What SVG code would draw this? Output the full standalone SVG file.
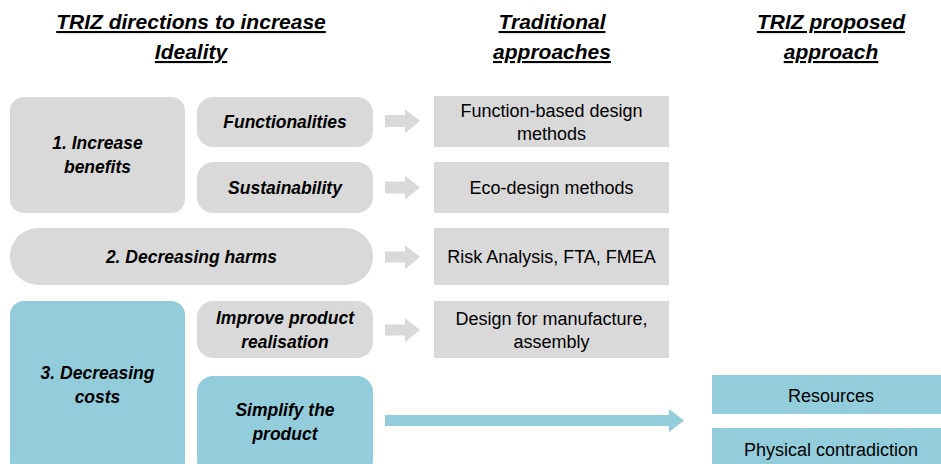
<svg xmlns="http://www.w3.org/2000/svg" width="941" height="464" viewBox="0 0 941 464">
<style>
.hd{font-family:"Liberation Sans",Arial,sans-serif;font-weight:bold;font-style:italic;font-size:21px;text-decoration:underline;fill:#000;text-anchor:middle}
.nl{font-family:"Liberation Sans",Arial,sans-serif;font-weight:bold;font-style:italic;font-size:17.5px;fill:#000;text-anchor:middle}
.tx{font-family:"Liberation Sans",Arial,sans-serif;font-size:18px;fill:#000;text-anchor:middle}
.g{fill:#d9d9d9}
.b{fill:#93cddc}
</style>
<rect width="941" height="464" fill="#fff"/>
<g id="headers">
<text class="hd" x="191" y="29">TRIZ directions to increase</text>
<text class="hd" x="191" y="59">Ideality</text>
<text class="hd" x="552" y="29">Traditional</text>
<text class="hd" x="552" y="59">approaches</text>
<text class="hd" x="831" y="29">TRIZ proposed</text>
<text class="hd" x="831" y="59">approach</text>
</g>
<g id="n1"><rect class="g" x="10" y="97" width="175" height="116" rx="14"/><text class="nl" x="97.5" y="149">1. Increase</text><text class="nl" x="97.5" y="173">benefits</text></g>
<g id="n_func"><rect class="g" x="197" y="97" width="176" height="50" rx="16"/><text class="nl" x="285" y="128">Functionalities</text></g>
<g id="n_sust"><rect class="g" x="197" y="162" width="176" height="51" rx="16"/><text class="nl" x="285" y="194">Sustainability</text></g>
<g id="n2"><rect class="g" x="10" y="228" width="363" height="57" rx="28"/><text class="nl" x="191.5" y="263">2. Decreasing harms</text></g>
<g id="n3"><rect class="b" x="10" y="301" width="175" height="175" rx="14"/><text class="nl" x="97.5" y="379">3. Decreasing</text><text class="nl" x="97.5" y="403">costs</text></g>
<g id="n_improve"><rect class="g" x="197" y="301" width="176" height="57" rx="16"/><text class="nl" x="285" y="324">Improve product</text><text class="nl" x="285" y="348">realisation</text></g>
<g id="n_simplify"><rect class="b" x="197" y="376" width="176" height="100" rx="16"/><text class="nl" x="285" y="416">Simplify the</text><text class="nl" x="285" y="440">product</text></g>
<g id="t_func"><rect class="g" x="434" y="96" width="235" height="51"/><text class="tx" x="551.5" y="117">Function-based design</text><text class="tx" x="551.5" y="140">methods</text></g>
<g id="t_eco"><rect class="g" x="434" y="162" width="235" height="51"/><text class="tx" x="551.5" y="194">Eco-design methods</text></g>
<g id="t_risk"><rect class="g" x="434" y="228" width="235" height="57"/><text class="tx" x="551.5" y="263">Risk Analysis, FTA, FMEA</text></g>
<g id="t_dfm"><rect class="g" x="434" y="301" width="235" height="57"/><text class="tx" x="551.5" y="325">Design for manufacture,</text><text class="tx" x="551.5" y="348">assembly</text></g>
<g id="p_res"><rect class="b" x="712" y="375" width="235" height="39"/><text class="tx" x="831" y="402">Resources</text></g>
<g id="p_phys"><rect class="b" x="712" y="428" width="235" height="46"/><text class="tx" x="831" y="456">Physical contradiction</text></g>
<g id="connectors">
<polygon class="g" points="385,115 405,115 405,109 420,121 405,133 405,127 385,127"/>
<polygon class="g" points="385,181.5 405,181.5 405,175.5 420,187.5 405,199.5 405,193.5 385,193.5"/>
<polygon class="g" points="385,251.5 405,251.5 405,245 420,257 405,269 405,262.5 385,262.5"/>
<polygon class="g" points="385,324.5 405,324.5 405,318 420,330 405,342 405,335.5 385,335.5"/>
<polygon class="b" points="385,415 669,415 669,409 684,420.5 669,432 669,426 385,426"/>
</g>
</svg>
